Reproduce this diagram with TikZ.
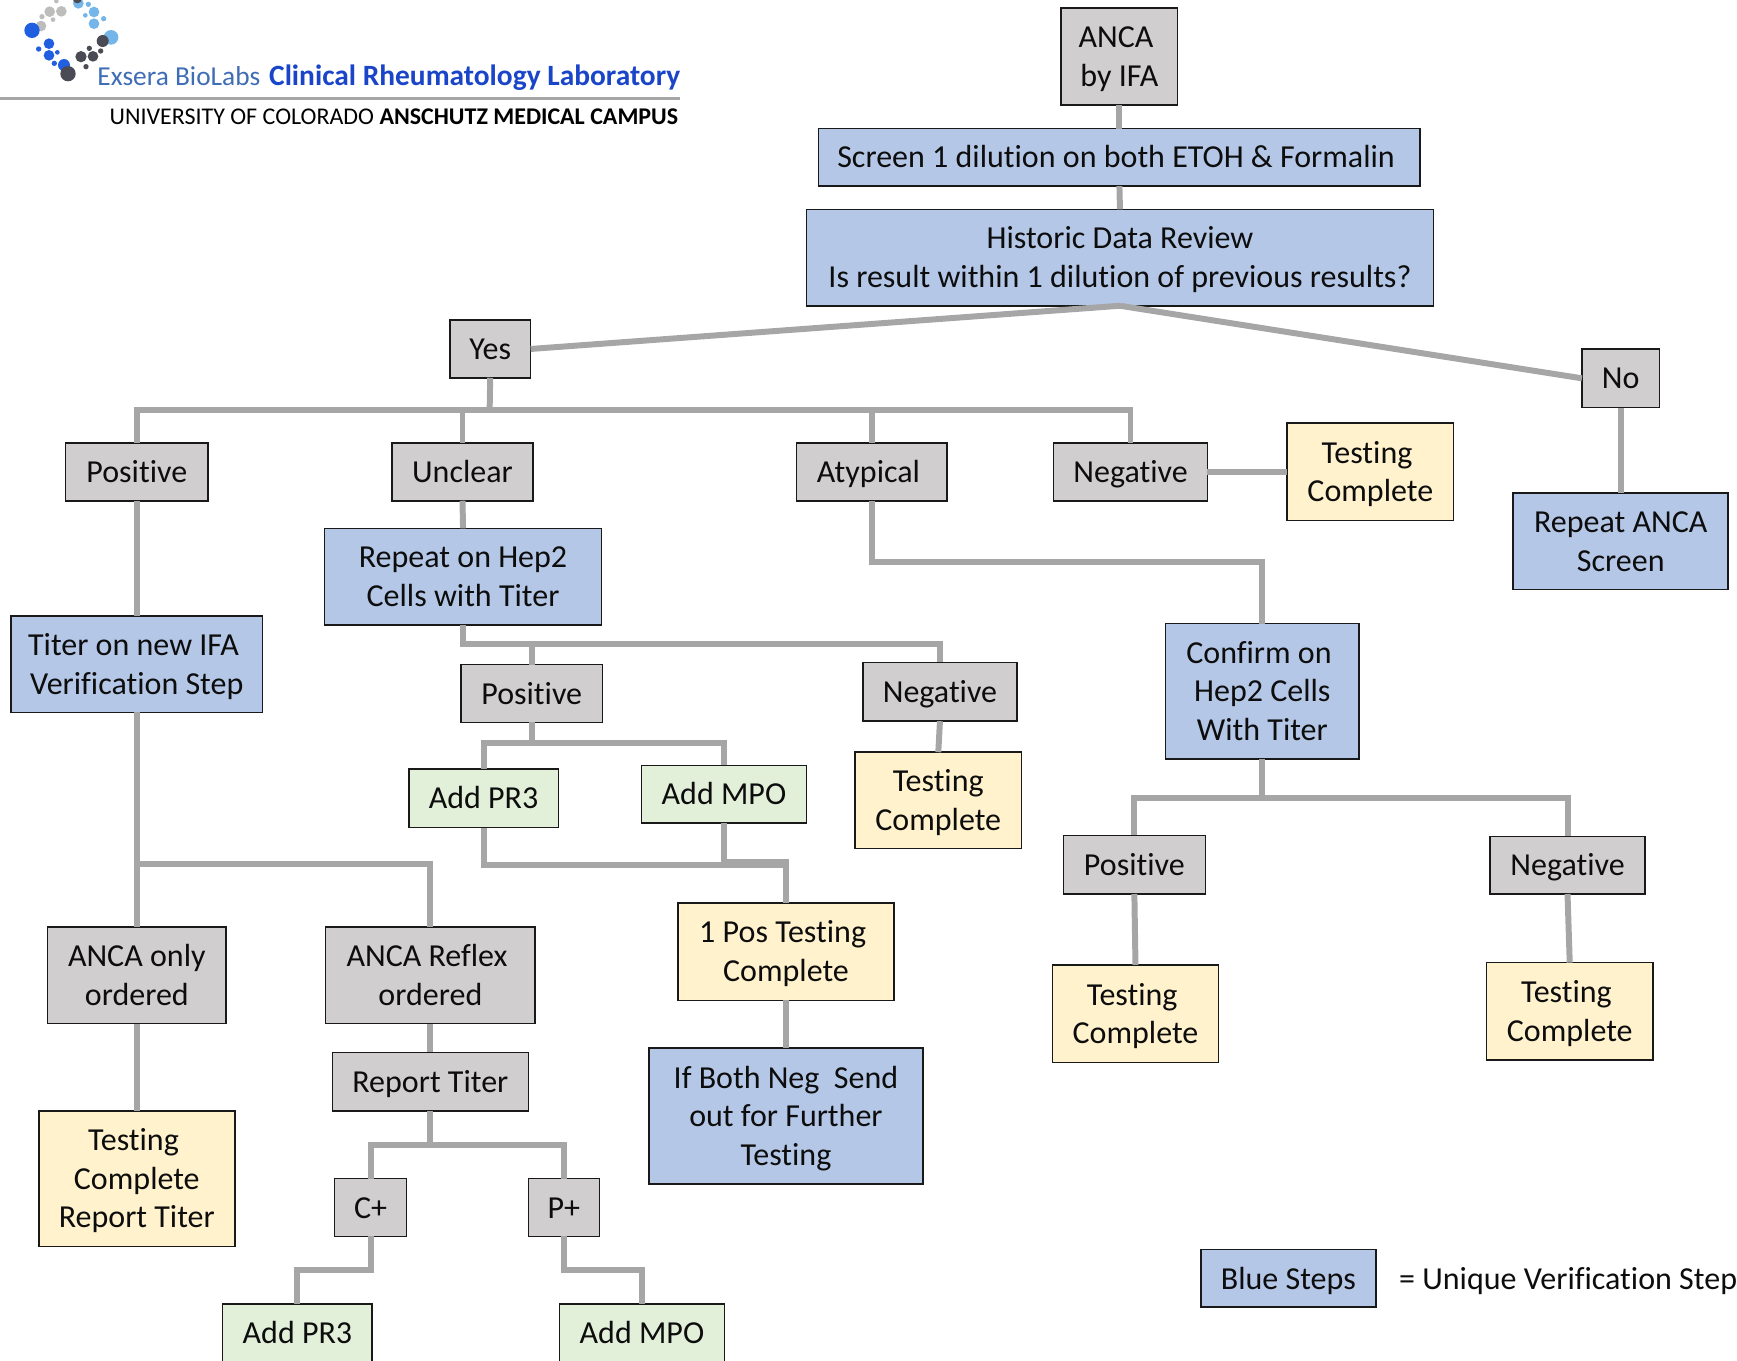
\documentclass[tikz,border=0pt]{standalone}
\usepackage{fontspec}
\setmainfont[RawFeature={-liga;-clig;-calt;-dlig}]{Carlito}
\newcommand\ltb{\rule[-3pt]{0pt}{15.6pt}}
\newcommand\tsp{\kern3.0pt\relax}
\tikzset{
  x=0.5pt,y=-0.5pt,
  bxbase/.style={draw=black!90,line width=0.7pt,inner sep=0pt,outer sep=0pt,align=center,text=black!95,font=\fontsize{14.45}{17.4}\selectfont},
  greybox/.style={bxbase,fill=boxgrey},
  bluebox/.style={bxbase,fill=boxblue},
  yellowbox/.style={bxbase,fill=boxyellow},
  greenbox/.style={bxbase,fill=boxgreen},
  cn/.style={draw=cngrey,line width=2.7pt,line join=miter},
  plain/.style={inner sep=0pt,outer sep=0pt,align=left,anchor=base west},
}
\definecolor{boxgrey}{HTML}{D0CECE}
\definecolor{boxblue}{HTML}{B4C7E7}
\definecolor{boxyellow}{HTML}{FFF2CC}
\definecolor{boxgreen}{HTML}{E2F0D9}
\definecolor{cngrey}{HTML}{A6A6A6}
\definecolor{lgdark}{HTML}{1F5FE0}
\definecolor{lglight}{HTML}{74B6EA}
\definecolor{lggrey}{HTML}{BDBDBB}
\definecolor{lgcoal}{HTML}{4B4B55}
\definecolor{exsera}{HTML}{3F6DB5}
\definecolor{clinical}{HTML}{1A45C8}
\newcommand\bx[7]{\node[#2,minimum width={(#5-#3)*0.5pt},minimum height={(#6-#4)*0.5pt}] (#1) at ({(#3+#5)/2},{(#4+#6)/2}) {\ltb#7\ltb};}
\newcommand\elbow[3]{\draw[cn] (#1.south) -- (#1.south |- 0,#3) -| (#2.north);}
\newcommand\lgdots[2]{\foreach \cx/\cy/\cr in {#2} {\fill[#1] ({\cx*0.3009},{\cy*0.3009}) circle[radius={\cr*0.1505pt}];}}
\begin{document}
\begin{tikzpicture}
\useasboundingbox (0,0) rectangle (1568,1228);
\clip (0,0) rectangle (1568,1228);
% logo
\lgdots{lglight}{235/10/16,265/13/8,282/36/16,256/46/7,311/56/8,282/71/16,333/112/22}
\lgdots{lggrey}{169/3/7,149/35/16,184/34/16,126/50/8,159/59/7,123/78/16}
\lgdots{lgdark}{96/91/23,147/131/16,116/147/8,147/166/16,172/157/7,163/190/8,192/195/18}
\lgdots{lgcoal}{204/221/23,243/170/17,279/169/16,268/145/8,302/153/8,258/200/8,308/123/18,232/-4/14}
\node[plain,font=\fontsize{12.35}{15}\selectfont,text=exsera] (lab1) at (88,77) {Exsera BioLabs};
\node[plain,font=\fontsize{13.28}{15}\bfseries\selectfont,text=clinical] (lab2) at (243,77) {Clinical Rheumatology Laboratory};
\fill[cngrey] (0,87.5) rectangle (614,90.5);
\node[plain,font=\fontsize{10.82}{12}\selectfont,text=black] (lab3) at (99,112) {UNIVERSITY OF COLORADO \textbf{ANSCHUTZ MEDICAL CAMPUS}};
% boxes
\bx{anca}{greybox}{958}{7}{1063}{95}{ANCA\tsp\\by IFA}
\bx{screen}{bluebox}{739}{116}{1282}{168}{Screen 1 dilution on both ETOH \& Formalin\tsp}
\bx{hist}{bluebox}{728}{189}{1294}{276}{Historic Data Review\\Is result within 1 dilution of previous results?}
\bx{yes}{greybox}{406}{289}{479}{341}{Yes}
\bx{no}{greybox}{1428}{315}{1498}{368}{No}
\bx{pos}{greybox}{59}{400}{188}{452}{Positive}
\bx{unc}{greybox}{354}{400}{481}{452}{Unclear}
\bx{aty}{greybox}{719}{400}{855}{452}{Atypical\tsp}
\bx{neg}{greybox}{951}{400}{1090}{452}{Negative}
\bx{tcA}{yellowbox}{1162}{382}{1312}{470}{Testing\tsp\\Complete}
\bx{rep}{bluebox}{1366}{445}{1560}{532}{Repeat ANCA\\Screen}
\bx{hep}{bluebox}{293}{477}{543}{564}{Repeat on Hep2\\Cells with Titer}
\bx{titer}{bluebox}{10}{556}{237}{643}{Titer on new IFA\tsp\\Verification Step}
\bx{posB}{greybox}{416}{600}{544}{652}{Positive}
\bx{negB}{greybox}{779}{598}{918}{651}{Negative}
\bx{conf}{bluebox}{1052}{563}{1227}{685}{Confirm on\tsp\\Hep2 Cells\\With Titer}
\bx{prA}{greenbox}{369}{694}{504}{747}{Add PR3}
\bx{mpoA}{greenbox}{579}{691}{728}{743}{Add MPO}
\bx{tcB}{yellowbox}{772}{679}{922}{766}{Testing\\Complete}
\bx{posC}{greybox}{960}{754}{1088}{807}{Positive}
\bx{negC}{greybox}{1345}{755}{1485}{807}{Negative}
\bx{onepos}{yellowbox}{612}{815}{807}{903}{1 Pos Testing\tsp\\Complete}
\bx{only}{greybox}{43}{837}{204}{924}{ANCA only\\ordered}
\bx{reflex}{greybox}{294}{837}{483}{924}{ANCA Reflex\tsp\\ordered}
\bx{tcC}{yellowbox}{950}{871}{1100}{959}{Testing\tsp\\Complete}
\bx{tcD}{yellowbox}{1342}{869}{1492}{957}{Testing\tsp\\Complete}
\bx{report}{greybox}{300}{950}{477}{1003}{Report Titer}
\bx{both}{bluebox}{586}{946}{833}{1069}{If Both Neg\ \ Send\\out for Further\\Testing}
\bx{tcE}{yellowbox}{35}{1003}{212}{1125}{Testing\tsp\\Complete\\Report Titer}
\bx{cp}{greybox}{302}{1064}{367}{1116}{C+}
\bx{pp}{greybox}{477}{1064}{541}{1116}{P+}
\bx{prB}{greenbox}{201}{1177}{336}{1230}{Add PR3}
\bx{mpoB}{greenbox}{505}{1177}{654}{1230}{Add MPO}
\bx{legend}{bluebox}{1084}{1128}{1242}{1180}{Blue Steps}
\node[plain,font=\fontsize{14.45}{17.4}\selectfont,text=black!95] (legtxt) at (1263,1164) {= Unique Verification Step};
% connectors
\draw[cn] (anca.south) -- (screen.north);
\draw[cn] (screen.south) -- (hist.north);
\draw[cn] (hist.south) -- (yes.east);
\draw[cn] (hist.south) -- (no.west);
\coordinate (busA) at (442,370);
\draw[cn] (yes.south) -- (busA);
\draw[cn] (pos.north) |- (busA);
\draw[cn] (unc.north) |- (busA);
\draw[cn] (aty.north) |- (busA);
\draw[cn] (neg.north) |- (busA);
\draw[cn] (neg.east) -- (tcA.west);
\draw[cn] (no.south) -- (rep.north);
\draw[cn] (pos.south) -- (titer.north);
\draw[cn] (unc.south) -- (hep.north);
\elbow{aty}{conf}{507}
\elbow{hep}{posB}{581}
\elbow{hep}{negB}{581}
\draw[cn] (negB.south) -- (tcB.north);
\elbow{posB}{prA}{671}
\elbow{posB}{mpoA}{671}
\elbow{prA}{onepos}{781}
\elbow{mpoA}{onepos}{778}
\draw[cn] (titer.south) -- (only.north);
\coordinate (busB) at (123,780);
\draw[cn] (busB) -| (reflex.north);
\draw[cn] (only.south) -- (tcE.north);
\draw[cn] (reflex.south) -- (report.north);
\elbow{report}{cp}{1034}
\elbow{report}{pp}{1034}
\elbow{cp}{prB}{1146}
\elbow{pp}{mpoB}{1146}
\elbow{conf}{posC}{720}
\elbow{conf}{negC}{720}
\draw[cn] (posC.south) -- (tcC.north);
\draw[cn] (negC.south) -- (tcD.north);
\draw[cn] (onepos.south) -- (both.north);
\end{tikzpicture}
\end{document}
